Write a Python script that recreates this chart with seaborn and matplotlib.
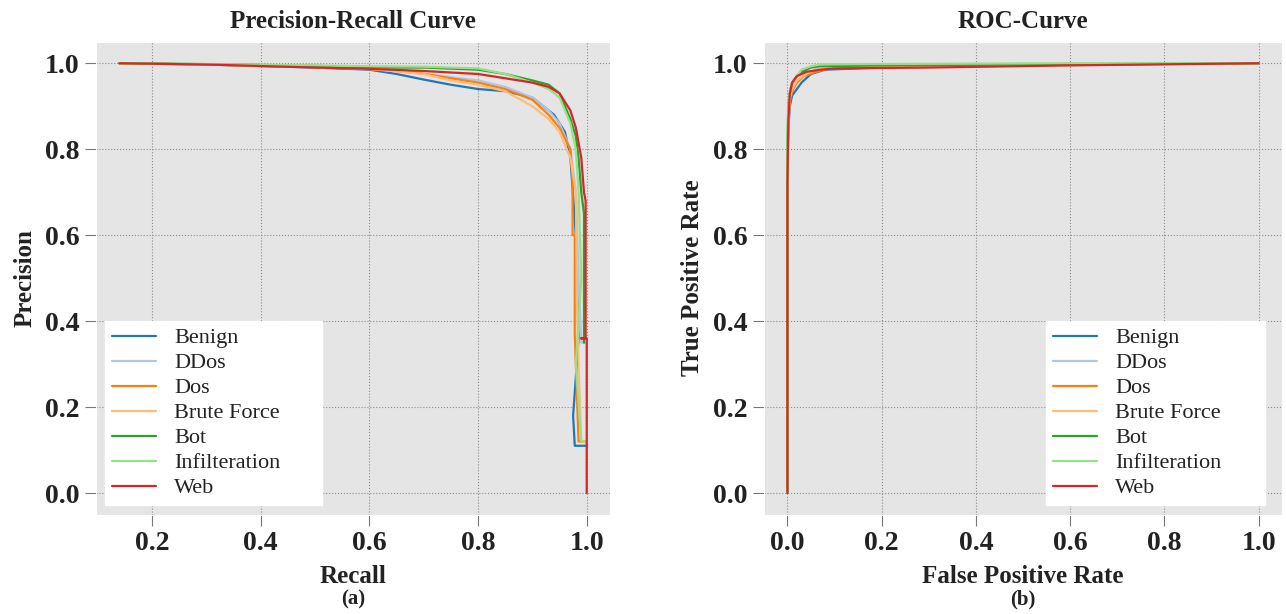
import numpy as np
import pandas as pd
import matplotlib
matplotlib.use("Agg")
import matplotlib.pyplot as plt
import seaborn as sns

classes = ["Benign", "DDos", "Dos", "Brute Force", "Bot", "Infilteration", "Web"]

# precision-recall points per class
pr_recall = {
    "Benign": [0.14, 0.3, 0.5, 0.6, 0.65, 0.7, 0.75, 0.8, 0.85, 0.9, 0.94, 0.96, 0.97, 0.98, 0.985, 0.975, 0.978, 1.0],
    "DDos": [0.14, 0.3, 0.5, 0.6, 0.7, 0.8, 0.85, 0.9, 0.93, 0.95, 0.97, 0.98, 0.985, 0.99, 1.0],
    "Dos": [0.14, 0.3, 0.5, 0.6, 0.68, 0.75, 0.8, 0.85, 0.9, 0.93, 0.95, 0.97, 0.974, 0.974, 0.978, 0.978, 0.985, 1.0],
    "Brute Force": [0.14, 0.3, 0.5, 0.6, 0.7, 0.75, 0.8, 0.85, 0.9, 0.93, 0.95, 0.97, 0.98, 0.982, 0.985, 0.99, 1.0],
    "Bot": [0.14, 0.3, 0.5, 0.6, 0.7, 0.8, 0.85, 0.9, 0.93, 0.95, 0.96, 0.97, 0.98, 0.985, 0.99, 0.995, 0.995],
    "Infilteration": [0.14, 0.3, 0.5, 0.6, 0.7, 0.8, 0.85, 0.9, 0.93, 0.95, 0.97, 0.98, 0.985, 0.99, 0.98, 0.99, 1.0],
    "Web": [0.14, 0.3, 0.5, 0.6, 0.7, 0.8, 0.85, 0.9, 0.93, 0.95, 0.96, 0.97, 0.98, 0.99, 0.995, 0.998, 0.998, 0.99, 1.0, 1.0],
}
pr_precision = {
    "Benign": [1.0, 0.997, 0.99, 0.985, 0.975, 0.962, 0.95, 0.94, 0.935, 0.92, 0.88, 0.84, 0.78, 0.6, 0.36, 0.18, 0.11, 0.11],
    "DDos": [1.0, 0.997, 0.992, 0.988, 0.975, 0.96, 0.945, 0.92, 0.89, 0.86, 0.8, 0.7, 0.5, 0.35, 0.35],
    "Dos": [1.0, 0.997, 0.991, 0.986, 0.98, 0.965, 0.955, 0.94, 0.915, 0.88, 0.85, 0.8, 0.72, 0.6, 0.6, 0.37, 0.12, 0.12],
    "Brute Force": [1.0, 0.997, 0.991, 0.987, 0.975, 0.96, 0.95, 0.935, 0.9, 0.87, 0.84, 0.78, 0.7, 0.45, 0.3, 0.12, 0.12],
    "Bot": [1.0, 0.998, 0.994, 0.99, 0.99, 0.985, 0.975, 0.96, 0.95, 0.93, 0.9, 0.87, 0.83, 0.78, 0.7, 0.65, 0.35],
    "Infilteration": [1.0, 0.998, 0.995, 0.993, 0.992, 0.988, 0.975, 0.955, 0.94, 0.92, 0.86, 0.8, 0.7, 0.5, 0.3, 0.12, 0.12],
    "Web": [1.0, 0.997, 0.99, 0.987, 0.982, 0.975, 0.965, 0.955, 0.945, 0.93, 0.91, 0.89, 0.85, 0.78, 0.7, 0.68, 0.36, 0.36, 0.36, 0.0],
}

# ROC points per class
roc_fpr = {
    "Benign": [0, 0, 0.002, 0.005, 0.01, 0.02, 0.03, 0.05, 0.08, 0.2, 0.6, 1.0],
    "DDos": [0, 0, 0.002, 0.005, 0.01, 0.02, 0.04, 0.06, 0.1, 0.3, 0.7, 1.0],
    "Dos": [0, 0, 0.002, 0.005, 0.01, 0.02, 0.035, 0.06, 0.09, 0.25, 0.6, 1.0],
    "Brute Force": [0, 0, 0.002, 0.005, 0.01, 0.02, 0.04, 0.06, 0.1, 0.3, 0.6, 1.0],
    "Bot": [0, 0, 0.002, 0.005, 0.01, 0.02, 0.03, 0.05, 0.07, 0.2, 0.6, 1.0],
    "Infilteration": [0, 0, 0.002, 0.005, 0.01, 0.02, 0.03, 0.05, 0.07, 0.15, 0.6, 1.0],
    "Web": [0, 0, 0.002, 0.005, 0.01, 0.02, 0.04, 0.07, 0.1, 0.3, 0.6, 1.0],
}
roc_tpr = {
    "Benign": [0, 0.75, 0.85, 0.9, 0.925, 0.94, 0.955, 0.975, 0.985, 0.99, 0.997, 1.0],
    "DDos": [0, 0.8, 0.88, 0.92, 0.945, 0.96, 0.975, 0.985, 0.99, 0.993, 0.997, 1.0],
    "Dos": [0, 0.78, 0.86, 0.91, 0.935, 0.955, 0.97, 0.98, 0.988, 0.992, 0.997, 1.0],
    "Brute Force": [0, 0.8, 0.87, 0.92, 0.94, 0.96, 0.975, 0.985, 0.99, 0.993, 0.997, 1.0],
    "Bot": [0, 0.82, 0.9, 0.93, 0.955, 0.97, 0.98, 0.99, 0.993, 0.995, 0.998, 1.0],
    "Infilteration": [0, 0.85, 0.9, 0.935, 0.955, 0.97, 0.985, 0.993, 0.997, 0.998, 1.0, 1.0],
    "Web": [0, 0.72, 0.87, 0.93, 0.955, 0.97, 0.98, 0.985, 0.988, 0.99, 0.995, 1.0],
}

colors = sns.color_palette("tab20", 20)[:7]

sns.set_style("darkgrid", {"axes.facecolor": "#e5e5e5", "grid.color": "#8c8c8c",
                           "grid.linestyle": ":", "xtick.bottom": True, "ytick.left": True})
plt.rcParams['font.family'] = ['Liberation Serif', 'DejaVu Serif']
plt.rcParams['xtick.color'] = '#777777'
plt.rcParams['ytick.color'] = '#777777'

rows = []
for c in classes:
    for i, (x, y) in enumerate(zip(pr_recall[c], pr_precision[c])):
        rows.append({"cls": c, "x": x, "y": y})
pr_df = pd.DataFrame(rows)
rows = []
for c in classes:
    for i, (x, y) in enumerate(zip(roc_fpr[c], roc_tpr[c])):
        rows.append({"cls": c, "x": x, "y": y})
roc_df = pd.DataFrame(rows)

fig = plt.figure(figsize=(12.86, 6.14), dpi=100)
ax1 = fig.add_axes([0.0747, 0.162, 0.3997, 0.770])
ax2 = fig.add_axes([0.594, 0.162, 0.403, 0.770])

for ax, df, title, xl, yl, cap, lbox in [
        (ax1, pr_df, "Precision-Recall Curve", "Recall", "Precision", "(a)", (0.0175, 0.02, 0.4225, 0.0)),
        (ax2, roc_df, "ROC-Curve", "False Positive Rate", "True Positive Rate", "(b)", (0.545, 0.02, 0.421, 0.0))]:
    sns.lineplot(data=df, x="x", y="y", hue="cls", hue_order=classes, palette=colors,
                 sort=False, estimator=None, units="cls", linewidth=1.6, ax=ax)
    ax.set_title(title, fontsize=18, fontweight="bold", color="#222222", pad=10)
    ax.set_xlabel(xl, fontsize=18, fontweight="bold", color="#222222", labelpad=6)
    ax.set_ylabel(yl, fontsize=18, fontweight="bold", color="#222222", labelpad=6)
    ax.tick_params(axis="both", labelsize=20, length=8, width=0.8, pad=4, labelcolor="#222222")
    handles, labels = ax.get_legend_handles_labels()
    leg = ax.legend(handles, labels, loc="lower left", bbox_to_anchor=lbox, mode="expand",
                    fontsize=16, frameon=True, facecolor="white",
                    edgecolor="white", framealpha=1, fancybox=False, handlelength=2.0,
                    handletextpad=0.8, labelspacing=0.2, borderaxespad=0.0, borderpad=0.3)
    for t in leg.get_texts():
        t.set_color("#222222")
    pos = ax.get_position()
    fig.text(pos.x0 + pos.width / 2, 0.024, cap, ha="center", va="center",
             fontsize=15, fontweight="bold", color="#222222")

ax1.set_xticks([0.2, 0.4, 0.6, 0.8, 1.0])
ax2.set_xticks([0.0, 0.2, 0.4, 0.6, 0.8, 1.0])
ax1.set_xlim(0.097, 1.043)
ax2.set_xlim(-0.05, 1.05)
for ax in (ax1, ax2):
    ax.set_ylim(-0.05, 1.05)
    ax.set_yticks([0.0, 0.2, 0.4, 0.6, 0.8, 1.0])
    for lab in ax.get_xticklabels() + ax.get_yticklabels():
        lab.set_fontweight("bold")

fig.savefig("out.png", dpi=100)
